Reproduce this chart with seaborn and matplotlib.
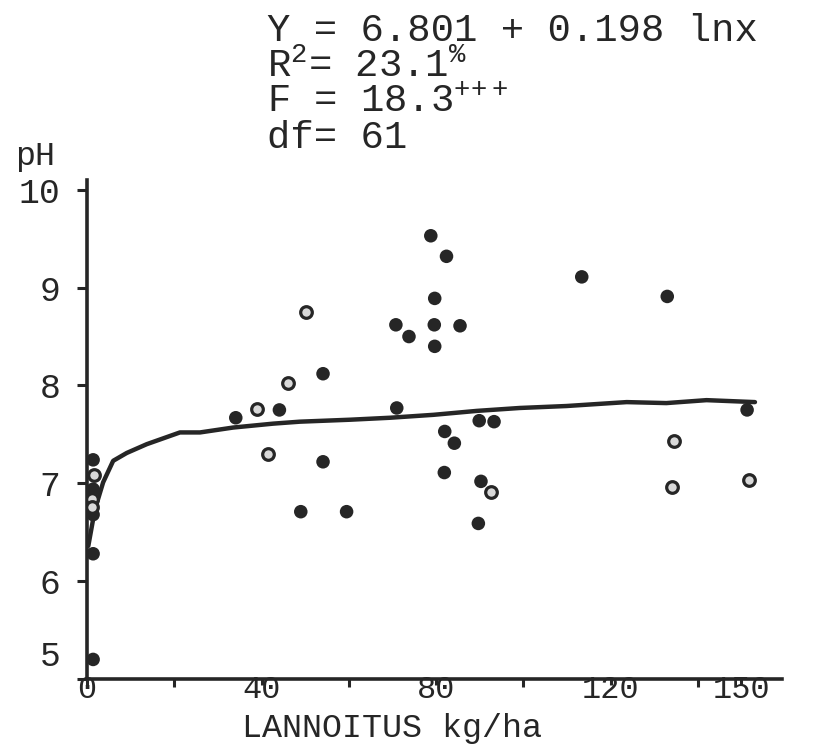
import matplotlib
matplotlib.use("Agg")
import matplotlib.pyplot as plt
import matplotlib.transforms as mtrans
import seaborn as sns
import pandas as pd

# ---- data ----
filled_x = [78.8, 82.4, 79.7, 70.8, 79.6, 85.5, 73.8, 79.7, 54.1, 34.1, 44.1, 71.0,
            89.9, 93.3, 82.0, 84.2, 54.1, 81.9, 90.3, 49.0, 59.5, 89.7, 113.4, 133.0,
            151.3, 1.4, 1.4, 1.4, 1.4, 1.4]
filled_y = [9.53, 9.32, 8.89, 8.62, 8.62, 8.61, 8.50, 8.40, 8.12, 7.67, 7.75, 7.77,
            7.64, 7.63, 7.53, 7.41, 7.22, 7.11, 7.02, 6.71, 6.71, 6.59, 9.11, 8.91,
            7.75, 7.24, 6.94, 6.68, 6.28, 5.20]
open_x = [50.3, 46.0, 38.9, 41.4, 92.7, 134.6, 134.1, 151.8, 1.7, 1.1, 1.1]
open_y = [8.75, 8.03, 7.76, 7.30, 6.91, 7.43, 6.96, 7.03, 7.09, 6.84, 6.76]

curve_x = [0.3, 1.8, 3.7, 6.0, 9.1, 13.7, 21.3, 25.9, 33.5, 42.7, 48.8, 60.3, 69.4,
           79.4, 89.3, 99.2, 109.9, 123.7, 132.8, 142.0, 153.1]
curve_y = [6.36, 6.73, 7.01, 7.23, 7.31, 7.40, 7.52, 7.52, 7.57, 7.61, 7.63, 7.65, 7.67,
           7.70, 7.74, 7.77, 7.79, 7.83, 7.82, 7.85, 7.83]

x_ticks = [0, 40, 80, 120, 150]
x_minor_ticks = [20, 60, 100, 140]
y_ticks = [5, 6, 7, 8, 9, 10]

stats_lines = ["Y = 6.801 + 0.198 lnx",
               r"R$^{2}$= 23.1$^{\%}$",
               r"F = 18.3$^{+\!+\!+}$",
               "df= 61"]
x_label = "LANNOITUS kg/ha"
y_label = "pH"

# ---- style ----
sns.set_style("ticks")
plt.rcParams['font.family'] = ['Liberation Mono', 'DejaVu Sans']
plt.rcParams['mathtext.fontset'] = 'custom'
for k in ['rm', 'it', 'bf', 'sf', 'tt']:
    plt.rcParams['mathtext.' + k] = 'Liberation Mono'
ink = '#262626'

W, H = 823, 748
fig = plt.figure(figsize=(W / 100, H / 100), dpi=100)
ax = fig.add_axes([87 / W, 1 - 679 / H, (782 - 87) / W, (679 - 180) / H])

sns.lineplot(x=curve_x, y=curve_y, ax=ax, color=ink, linewidth=3.2, sort=False,
             estimator=None)
sns.scatterplot(x=filled_x, y=filled_y, ax=ax, color=ink, s=95, edgecolor='none',
                zorder=3)
sns.scatterplot(x=open_x, y=open_y, ax=ax, facecolor='#d9d9d9', edgecolor=ink, s=70,
                linewidth=2.3, zorder=3)

ax.set_xlim(0, 159.3)
ax.set_ylim(5.0, 10.1)
ax.set_xticks(x_ticks)
ax.set_xticks(x_minor_ticks, minor=True)
ax.set_yticks(y_ticks)
ax.set_xticklabels([str(v) for v in x_ticks])
ax.set_yticklabels([str(v) for v in y_ticks])

for s in ['top', 'right']:
    ax.spines[s].set_visible(False)
for s in ['left', 'bottom']:
    ax.spines[s].set_linewidth(2.6)
    ax.spines[s].set_color(ink)

ax.tick_params(axis='both', which='both', direction='out', color=ink, width=2.2)
ax.tick_params(axis='y', length=7, pad=12, labelsize=25, labelcolor=ink)
ax.tick_params(axis='x', which='major', length=4, pad=-7, labelsize=23, labelcolor=ink)
ax.tick_params(axis='x', which='minor', length=6)
ax.set_xlabel('')
ax.set_ylabel('')

# the typed "5" sits a little above the axis corner in the original
lbl5 = ax.yaxis.get_major_ticks()[0].label1
lbl5.set_transform(lbl5.get_transform() +
                   mtrans.ScaledTranslation(0, 26 / 100, fig.dpi_scale_trans))

# ---- texts ----
def px(x, y):
    return x / W, 1 - y / H

fig.text(*px(267, 13), "\n".join(stats_lines), fontsize=28, color=ink,
         va='top', ha='left', linespacing=0.98)
fig.text(*px(35, 156), y_label, fontsize=24, color=ink, va='center', ha='center')
fig.text(*px(392, 728), x_label, fontsize=24, color=ink, va='center', ha='center')

fig.savefig("out.png", dpi=100, facecolor='white')
